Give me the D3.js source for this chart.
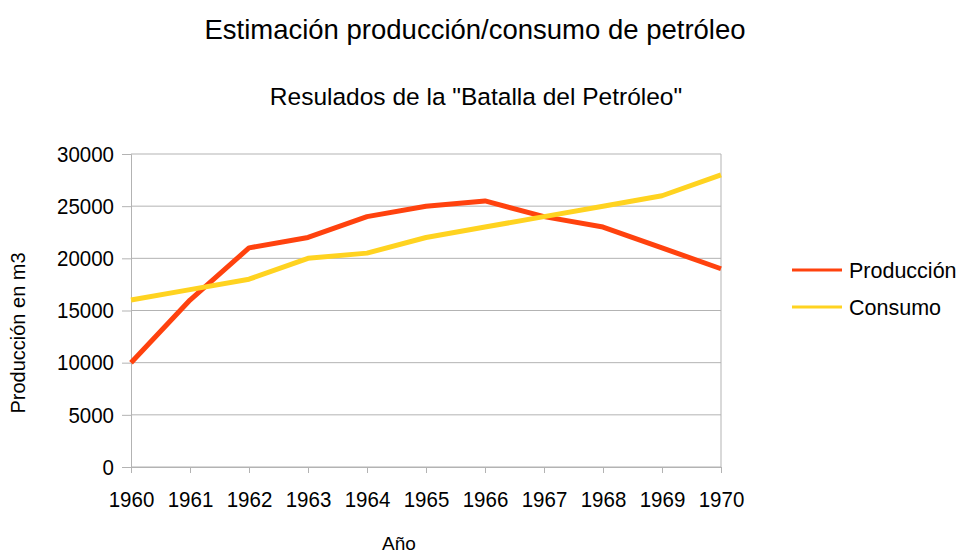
<!DOCTYPE html>
<html>
<head>
<meta charset="utf-8">
<script src="https://cdn.jsdelivr.net/npm/d3@7"></script>
<style>
  body { margin: 0; background: #fff; }
  svg { font-family: "Liberation Sans", Arial, sans-serif; }
</style>
</head>
<body>
<svg width="959" height="556"></svg>
<script>
const years = [1960, 1961, 1962, 1963, 1964, 1965, 1966, 1967, 1968, 1969, 1970];
const produccion = [10000, 16000, 21000, 22000, 24000, 25000, 25500, 24000, 23000, 21000, 19000];
const consumo = [16000, 17000, 18000, 20000, 20500, 22000, 23000, 24000, 25000, 26000, 28000];
const yTicks = [0, 5000, 10000, 15000, 20000, 25000, 30000];
const seriesNames = ["Producción", "Consumo"];
const colors = ["#ff420e", "#ffd320"];

const svg = d3.select("svg");
const margin = { left: 131, right: 238, top: 154, bottom: 89 };
const width = 959 - margin.left - margin.right;
const height = 556 - margin.top - margin.bottom;

const x = d3.scalePoint().domain(years).range([0, width]);
const y = d3.scaleLinear().domain([0, 30000]).range([height, 0]);

const g = svg.append("g").attr("transform", `translate(${margin.left},${margin.top})`);

// grid
g.selectAll(".grid").data(yTicks).enter().append("line")
  .attr("x1", 0).attr("x2", width)
  .attr("y1", d => y(d)).attr("y2", d => y(d))
  .attr("stroke", "#b3b3b3").attr("stroke-width", 1);
g.append("line").attr("x1", width).attr("x2", width).attr("y1", 0).attr("y2", height)
  .attr("stroke", "#b3b3b3");

const yAxis = g.append("g").call(d3.axisLeft(y).tickValues(yTicks).tickSize(9).tickPadding(8).tickFormat(d3.format("d")));
const xAxis = g.append("g").attr("transform", `translate(0,${height})`)
  .call(d3.axisBottom(x).tickSize(6).tickPadding(18));
[yAxis, xAxis].forEach(a => {
  a.select(".domain").attr("stroke", "#b3b3b3");
  a.selectAll(".tick line").attr("stroke", "#b3b3b3");
  a.selectAll("text").attr("font-size", 22.5).attr("fill", "#000")
    .attr("font-family", "Liberation Sans, Arial, sans-serif");
  // the reference labels are a bit narrow
  a.selectAll("text").each(function() {
    const w = this.getComputedTextLength();
    d3.select(this).attr("textLength", w * 0.91).attr("lengthAdjust", "spacingAndGlyphs");
  });
});

const line = d3.line().x((d, i) => x(years[i])).y(d => y(d));
[produccion, consumo].forEach((s, i) => {
  g.append("path").datum(s).attr("d", line)
    .attr("fill", "none").attr("stroke", colors[i]).attr("stroke-width", 5)
    .attr("stroke-linejoin", "round");
});

// titles
svg.append("text").attr("x", 475).attr("y", 39).attr("text-anchor", "middle")
  .attr("font-size", 27.5).text("Estimación producción/consumo de petróleo");
svg.append("text").attr("x", 476).attr("y", 105).attr("text-anchor", "middle")
  .attr("font-size", 24.5).text("Resulados de la \"Batalla del Petróleo\"");
svg.append("text").attr("x", 399).attr("y", 550).attr("text-anchor", "middle")
  .attr("font-size", 19).text("Año");
svg.append("text").attr("transform", "translate(25,333) rotate(-90)").attr("text-anchor", "middle")
  .attr("font-size", 20).text("Producción en m3");

// legend
const legend = svg.append("g").attr("transform", "translate(792,270)");
seriesNames.forEach((n, i) => {
  const row = legend.append("g").attr("transform", `translate(0,${i * 37})`);
  row.append("line").attr("x1", 0).attr("x2", 50).attr("y1", 0).attr("y2", 0)
    .attr("stroke", colors[i]).attr("stroke-width", 3);
  row.append("text").attr("x", 57).attr("y", 8).attr("font-size", 21.5).text(n);
});
</script>
</body>
</html>
